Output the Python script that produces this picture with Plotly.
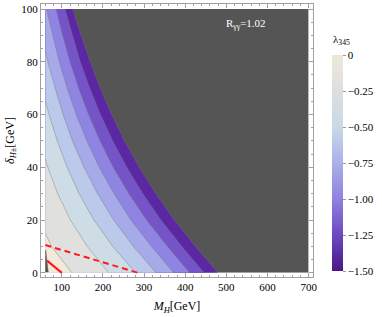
import numpy as np
import plotly.graph_objects as go

# ---- data ----
# delta_{H+-} rows (GeV) at which the crossing M_H of each lambda_345 contour was read
delta_rows = [0, 10, 20, 30, 40, 50, 60, 70, 80, 90, 100]
levels = [-0.1, -0.3, -0.5, -0.7, -0.9, -1.1, -1.3, -1.5]
cross_m01 = [125, 75, 45, 25, 11, 0, -9, -17, -25, -32, -38]
cross_m03 = [214, 162, 121, 90, 66, 47, 32, 19, 7, -3, -12]
cross_m05 = [279, 224, 178, 142, 113, 89, 69, 52, 38, 25, 14]
cross_m07 = [329, 274, 226, 187, 154, 126, 103, 84, 66, 51, 39]
cross_m09 = [372, 318, 268, 227, 191, 161, 135, 113, 94, 78, 63]
cross_m11 = [411, 357, 306, 263, 225, 193, 165, 141, 120, 102, 86]
cross_m13 = [446, 392, 341, 297, 258, 224, 194, 168, 145, 126, 108]
cross_m15 = [479, 424, 373, 328, 288, 252, 221, 193, 169, 147, 126]
crossings = [cross_m01, cross_m03, cross_m05, cross_m07,
             cross_m09, cross_m11, cross_m13, cross_m15]

mh_min, mh_max = 60, 700
dl_min, dl_max = 0, 100

dash_mh = [60, 285]
dash_dl = [10.5, 0]
solid_mh = [64, 100]
solid_dl = [4.6, 0]
sliver_mh = [60.3, 60.8, 62.5, 67, 60.3]
sliver_dl = [0.3, 8.5, 6.0, 0.3, 0.3]

cbar_vals = [0, -0.25, -0.5, -0.75, -1.0, -1.25, -1.5]
cbar_text = ["0", "\u22120.25", "\u22120.50", "\u22120.75", "\u22121.00", "\u22121.25", "\u22121.50"]

band_colors = ['#555555', '#5B27A3', '#7554C8', '#8F84E2', '#A7AAE8',
               '#BBC9EB', '#CEDCE5', '#E0E1DF', '#F1EADB']
cbar_scale = [[0.0, '#4A1684'], [1/6, '#6C4AC0'], [2/6, '#8E82E0'], [3/6, '#AAB1E8'],
              [4/6, '#C8D9E7'], [5/6, '#DDDFDF'], [1.0, '#EFE8D9']]

# ---- build the lambda_345 field from the read contour crossings ----
xs = np.linspace(mh_min, mh_max, 641)
ys = np.linspace(dl_min, dl_max, 201)
Z = np.empty((len(ys), len(xs)))
for j, y in enumerate(ys):
    cx = [np.interp(y, delta_rows, c) for c in crossings]
    xp = [-400.0] + cx + [1200.0]
    fp = [0.3] + levels + [-2.0]
    Z[j] = np.interp(xs, xp, fp)

nb = len(band_colors)
nl = nb - 1
step_scale = []
for k, col in enumerate(band_colors):
    lo = max(0.0, (k - 0.5) / nl)
    hi = min(1.0, (k + 0.5) / nl)
    step_scale.append([lo, col])
    step_scale.append([hi, col])

fig = go.Figure()
fig.add_trace(go.Contour(
    x=xs, y=ys, z=Z,
    contours=dict(start=levels[-1], end=levels[0], size=0.2, coloring='fill'),
    colorscale=step_scale, showscale=False,
    line=dict(color='rgba(120,120,120,0.75)', width=0.6),
    hoverinfo='skip'))

fig.add_trace(go.Scatter(x=sliver_mh, y=sliver_dl, mode='lines', fill='toself',
                         fillcolor='#555555', line=dict(color='#555555', width=0.5),
                         hoverinfo='skip', showlegend=False))
fig.add_trace(go.Scatter(x=dash_mh, y=dash_dl, mode='lines',
                         line=dict(color='#FF1A1A', width=2, dash='6px,4px'),
                         showlegend=False))
fig.add_trace(go.Scatter(x=solid_mh, y=solid_dl, mode='lines',
                         line=dict(color='#FF1A1A', width=2.2), showlegend=False))

# colorbar holder
fig.add_trace(go.Scatter(
    x=[None], y=[None], mode='markers', showlegend=False,
    marker=dict(color=[0], colorscale=cbar_scale, cmin=-1.5, cmax=0, showscale=True,
                colorbar=dict(x=(331.5 - 41) / 272, xanchor='left',
                              y=(277 - 163) / 273, yanchor='middle',
                              len=216 / 273, lenmode='fraction',
                              thickness=11, thicknessmode='pixels',
                              outlinewidth=0, xpad=0, ypad=0,
                              tickvals=cbar_vals, ticktext=cbar_text,
                              ticks='outside', ticklen=3, tickcolor='#999999',
                              tickfont=dict(family='Liberation Serif', size=11, color='black')))))

font = 'Liberation Serif'
axis_common = dict(showline=True, linecolor='#A0A0A0', linewidth=1, mirror='allticks',
                   ticks='inside', ticklen=4, tickcolor='#A0A0A0', showgrid=False,
                   zeroline=False, tickfont=dict(family=font, size=11, color='black'))
fig.update_xaxes(range=[49.4, 710.6], tickvals=[100, 200, 300, 400, 500, 600, 700],
                 minor=dict(dtick=20, tick0=0, ticks='inside', ticklen=2, tickcolor='#A0A0A0'),
                 title=dict(text='<i>M</i><sub><i>H</i></sub>[GeV]', standoff=9,
                            font=dict(family=font, size=12, color='black')),
                 **axis_common)
fig.update_yaxes(range=[-1.6, 101.9], tickvals=[0, 20, 40, 60, 80, 100],
                 minor=dict(dtick=5, tick0=0, ticks='inside', ticklen=2, tickcolor='#A0A0A0'),
                 title=dict(text='<i>\u03b4</i><sub><i>H</i>\u00b1</sub>[GeV]', standoff=4,
                            font=dict(family=font, size=12, color='black')),
                 **axis_common)

fig.add_annotation(x=(268 - 41) / 272, y=(277 - 15) / 273, xref='paper', yref='paper',
                   text='R<sub>\u03b3\u03b3</sub>=1.02', showarrow=False,
                   font=dict(family=font, size=11, color='white'))
fig.add_annotation(x=(352 - 41) / 272, y=(277 - 31) / 273, xref='paper', yref='paper',
                   text='\u03bb<sub>345</sub>', showarrow=False,
                   font=dict(family=font, size=11, color='black'))

fig.update_layout(width=382, height=317, paper_bgcolor='white', plot_bgcolor='white',
                  margin=dict(l=41, r=69, t=4, b=40, autoexpand=False),
                  showlegend=False)
fig.write_html("out.html", config={'displayModeBar': False},
               post_script="document.body.style.margin='0';document.body.style.padding='0';")
